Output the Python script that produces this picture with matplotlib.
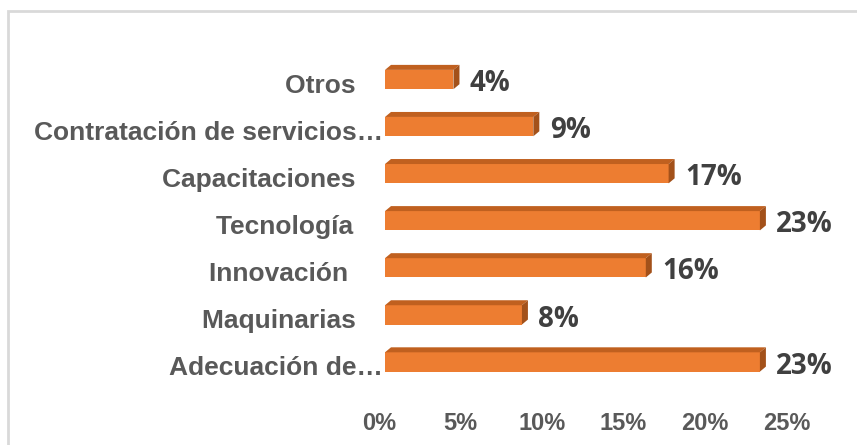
import matplotlib
matplotlib.use("Agg")
import matplotlib.pyplot as plt
from matplotlib.patches import Polygon, Rectangle
import matplotlib.transforms as mtransforms

categories = ["Adecuación de…", "Maquinarias", "Innovación", "Tecnología",
              "Capacitaciones", "Contratación de servicios…", "Otros"]
tick_labels = ["Adecuación de…", "Maquinarias   \u2009", "Innovación    \u2009", "Tecnología    ",
               "Capacitaciones   \u2009", "Contratación de servicios…", "Otros   \u2009"]
values = [23.0, 8.4, 16.0, 23.0, 17.4, 9.1, 4.2]
value_labels = ["23%", "8%", "16%", "23%", "17%", "9%", "4%"]
xticks = [0, 5, 10, 15, 20, 25]
xtick_labels = ["0%", "5%", "10%", "15%", "20%", "25%"]

W, H = 857, 445
fig = plt.figure(figsize=(W / 100, H / 100), dpi=100)
fig.patch.set_facecolor("white")

# light border (left and top visible)
fig.add_artist(Rectangle((8 / W, -0.1), 2, 1.1 - 11 / H, transform=fig.transFigure,
                         fill=False, edgecolor="#d9d9d9", linewidth=2.0))

ax_left, ax_right = 385, 792.5
ax_top, ax_bot = 56, 385.5
ax = fig.add_axes([ax_left / W, 1 - ax_bot / H, (ax_right - ax_left) / W, (ax_bot - ax_top) / H])
ax.set_xlim(0, 25)
ax.set_ylim(-0.5, 6.5)
for s in ax.spines.values():
    s.set_visible(False)
ax.tick_params(length=0)

front = "#ED7D31"
top_c = "#C0601F"
side_c = "#A3511A"
bh = 0.41
px_per_x = (ax_right - ax_left) / 25
px_per_y = (ax_bot - ax_top) / 7
dx = 6 / px_per_x
dy = 5 / px_per_y

pos = list(range(len(categories)))
ax.barh(pos, values, height=bh, color=front, edgecolor="none", zorder=2)
for y, v, lab in zip(pos, values, value_labels):
    yt = y + bh / 2
    yb = y - bh / 2
    ax.add_patch(Polygon([(0, yt), (v, yt), (v + dx, yt + dy), (dx, yt + dy)],
                         closed=True, facecolor=top_c, edgecolor="none", zorder=2))
    ax.add_patch(Polygon([(v, yb), (v, yt), (v + dx, yt + dy), (v + dx, yb + dy)],
                         closed=True, facecolor=side_c, edgecolor="none", zorder=2))
    ax.annotate(lab, (v + dx, y), xytext=(7.5, -3), textcoords="offset points",
                ha="left", va="center", fontsize=20, fontweight="bold",
                family="Open Sans", color="#404040")

ax.set_yticks(pos)
ax.set_yticklabels(tick_labels, fontsize=19, fontweight="bold",
                   family="Liberation Sans", color="#595959")
ax.tick_params(axis="y", pad=1.5)
for t in ax.get_yticklabels():
    t.set_transform(t.get_transform() + mtransforms.ScaledTranslation(0, -4 / 100, fig.dpi_scale_trans))

ax.set_xticks(xticks)
ax.set_xticklabels(xtick_labels, fontsize=17, fontweight="bold",
                   family="Liberation Sans", color="#595959")
ax.tick_params(axis="x", pad=19)
for t in ax.get_xticklabels():
    t.set_transform(t.get_transform() + mtransforms.ScaledTranslation(-6 / 100, 0, fig.dpi_scale_trans))

fig.savefig("out.png", dpi=100)
